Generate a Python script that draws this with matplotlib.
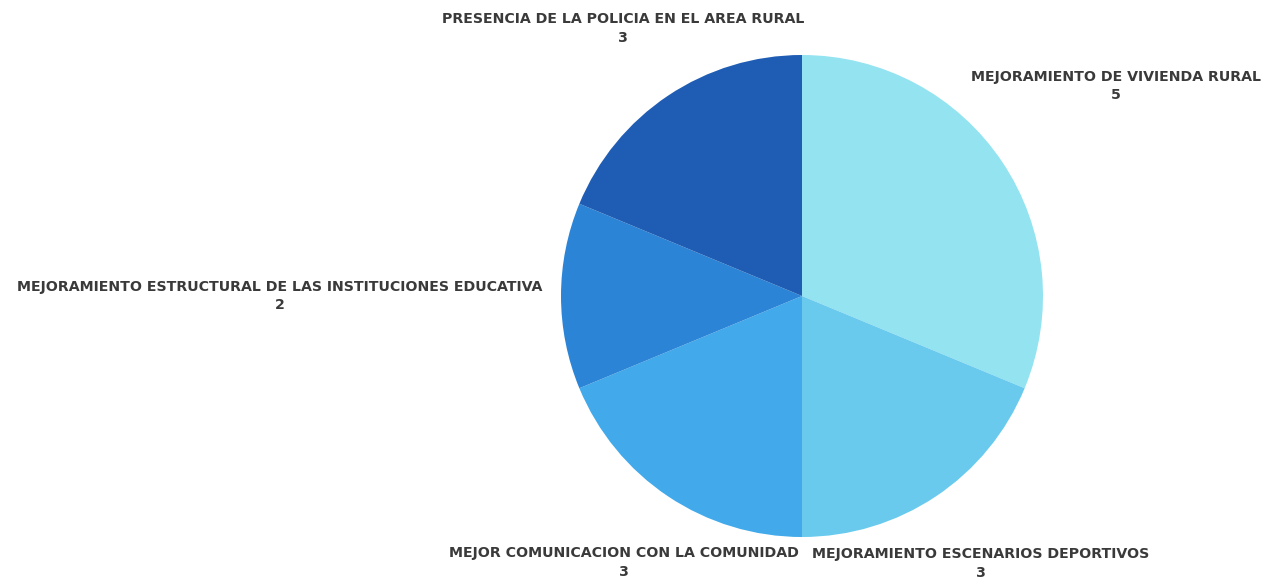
import numpy as np
import matplotlib.pyplot as plt

categorias = [
    "MEJORAMIENTO DE VIVIENDA RURAL",
    "MEJORAMIENTO ESCENARIOS DEPORTIVOS",
    "MEJOR COMUNICACION CON LA COMUNIDAD",
    "MEJORAMIENTO ESTRUCTURAL DE LAS INSTITUCIONES EDUCATIVA",
    "PRESENCIA DE LA POLICIA EN EL AREA RURAL",
]
valores = [5, 3, 3, 2, 3]
colores = ["#93e3f1", "#69caee", "#42aaea", "#2b84d6", "#1f5db4"]

# distancia de cada etiqueta al centro (px)
dist_etiquetas = [378, 322, 321, 522, 322]

W, H = 1266, 581
fig = plt.figure(figsize=(W / 100, H / 100), dpi=100)
ax = fig.add_axes([0, 0, 1, 1])

cx, cy, R = 802, H - 296, 241
wedges, _ = ax.pie(valores, colors=colores, startangle=90, counterclock=False,
                   center=(cx, cy), radius=R, wedgeprops=dict(linewidth=0))

for w, nombre, v, d in zip(wedges, categorias, valores, dist_etiquetas):
    mid = np.deg2rad((w.theta1 + w.theta2) / 2)
    x = cx + d * np.cos(mid)
    y = cy + d * np.sin(mid)
    ax.text(x, y, f"{nombre}\n{v}", ha="center", va="center", fontsize=10.2,
            fontweight="bold", family="DejaVu Sans", color="#3a3a3a",
            linespacing=1.45)

ax.set_xlim(0, W)
ax.set_ylim(0, H)
ax.set_aspect("equal")
ax.axis("off")

fig.savefig("out.png", dpi=100)
